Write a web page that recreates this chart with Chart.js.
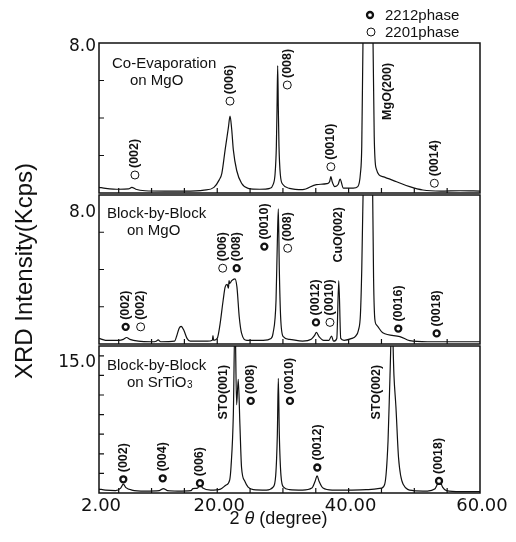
<!DOCTYPE html>
<html>
<head>
<meta charset="utf-8">
<script src="https://cdn.jsdelivr.net/npm/chart.js@4.4.1/dist/chart.umd.min.js"></script>
<style>
  html, body { margin: 0; padding: 0; background: #fff; }
  #wrap { position: relative; width: 516px; height: 542px; }
  #wrap canvas { position: absolute; left: 0; top: 0; }
</style>
</head>
<body>
<div id="wrap">
  <canvas id="panelTop" width="516" height="542"></canvas>
  <canvas id="panelMid" width="516" height="542"></canvas>
  <canvas id="panelBot" width="516" height="542"></canvas>
</div>
<script>
// 2theta axis
const xTickDegs = [2, 5, 10, 15, 20, 25, 30, 35, 40, 45, 50, 55, 60];
const xLabelDegs = [2, 20, 40, 60];

// Co-Evaporation on MgO
const topDeg = [2, 3, 5, 6.5, 7.0, 7.6, 9, 12, 15, 18, 19.5, 20.3, 20.7, 21.2, 21.7, 21.95, 22.2, 22.45, 22.96, 23.7,
  24.7, 26.5, 28.0, 28.5, 28.8, 29.0, 29.1, 29.2, 29.3, 29.4, 29.6, 30.0, 31, 33, 35.1, 36.7, 37.1, 37.3, 37.5, 37.9,
  38.4, 38.7, 39.2, 40.7, 41.4, 41.8, 42.0, 42.2, 42.5, 42.95, 43.4, 43.7, 43.9, 44.2, 45.2, 47.3, 49.3, 51.3, 54, 57, 60];
const topKcps = [0.3, 0.25, 0.2, 0.22, 0.3, 0.2, 0.12, 0.1, 0.1, 0.15, 0.3, 0.7, 1.05, 2.3, 3.5, 4.1, 3.4, 2.3, 1.2, 0.52,
  0.25, 0.2, 0.25, 0.45, 1.0, 2.5, 4.5, 6.8, 4.5, 2.5, 1.0, 0.45, 0.25, 0.18, 0.45, 0.5, 0.6, 0.87, 0.6, 0.34,
  0.45, 0.74, 0.26, 0.26, 0.34, 1.05, 2.5, 8.5, 14, 16, 14, 8.5, 3, 1.3, 0.87, 0.6, 0.34, 0.16, 0.1, 0.12, 0.1];
const topMarks = [
  [7.47, 0.96, '2201', '(002)'],
  [21.94, 4.9, '2201', '(006)'],
  [30.66, 5.76, '2201', '(008)'],
  [37.3, 1.4, '2201', '(0010)'],
  [53.05, 0.52, '2201', '(0014)']
];
const topNotes = [[46.0, 3.9, 'MgO(200)']];

// Block-by-Block on MgO
const midDeg = [2, 3, 5, 5.7, 6.2, 6.7, 8, 10, 10.7, 11.0, 11.4, 13.5, 13.8, 14.2, 14.5, 14.9, 15.4, 15.9, 18.5, 19.25,
  19.35, 19.45, 20.0, 20.4, 20.9, 21.2, 21.5, 21.7, 21.8, 21.9, 22.2, 22.7, 23.0, 23.35, 23.7, 24.5, 27, 28.2, 28.5, 28.95,
  29.15, 29.3, 29.45, 29.65, 30.05, 31, 33, 34.3, 34.8, 35.1, 35.5, 36.2, 37.0, 37.4, 37.7, 38.2, 38.5, 38.8, 39.3, 40.5,
  41.0, 41.5, 41.8, 42.0, 42.3, 42.95, 43.6, 43.8, 44.0, 44.3, 45.2, 47.8, 49.3, 52, 56, 60];
const midKcps = [0.3, 0.2, 0.2, 0.25, 0.35, 0.25, 0.15, 0.12, 0.15, 0.22, 0.12, 0.15, 0.4, 0.85, 0.95, 0.75, 0.3, 0.15, 0.15, 0.2,
  0.45, 0.2, 0.3, 1.0, 2.35, 3.05, 3.2, 3.0, 3.4, 3.25, 3.4, 3.5, 3.05, 1.45, 0.58, 0.2, 0.2, 0.3, 0.58, 2.35,
  5.5, 7.25, 4.0, 1.45, 0.4, 0.25, 0.15, 0.25, 0.45, 0.62, 0.4, 0.2, 0.2, 0.43, 0.15, 0.3, 3.4, 0.3, 0.2, 0.3,
  0.4, 0.75, 1.6, 4.0, 10, 16, 10, 3.5, 1.3, 1.0, 0.6, 0.4, 0.18, 0.12, 0.12, 0.12];
const midMarks = [
  [6.06, 0.92, '2212', '(002)'],
  [8.34, 0.92, '2201', '(002)'],
  [20.83, 4.07, '2201', '(006)'],
  [22.96, 4.07, '2212', '(008)'],
  [27.17, 5.23, '2212', '(0010)'],
  [30.72, 5.14, '2201', '(008)'],
  [35.03, 1.16, '2212', '(0012)'],
  [37.16, 1.16, '2201', '(0010)'],
  [47.56, 0.83, '2212', '(0016)'],
  [53.4, 0.57, '2212', '(0018)']
];
const midNotes = [[38.5, 4.37, 'CuO(002)']];

// Block-by-Block on SrTiO3
const botDeg = [2, 3, 4.5, 5.3, 5.7, 6.1, 7, 9, 11.2, 11.8, 12.4, 14, 16.0, 16.3, 17.0, 17.4, 17.8, 19, 20.5, 21.3,
  21.9, 22.1, 22.45, 22.7, 22.95, 23.2, 23.45, 23.7, 24.2, 24.7, 25.5, 27.5, 28.5, 28.9, 29.15, 29.3, 29.45, 29.7, 30.1, 31,
  33, 34.4, 34.9, 35.2, 35.5, 36.1, 37.5, 40, 43, 45.0, 45.5, 46.0, 46.3, 46.6, 46.9, 47.2, 47.6, 48.3, 49.8, 52,
  53.1, 53.6, 53.9, 54.3, 54.9, 57, 60];
const botKcps = [0.4, 0.3, 0.25, 0.5, 0.9, 0.55, 0.3, 0.2, 0.25, 0.45, 0.25, 0.2, 0.25, 0.45, 0.5, 0.9, 0.5, 0.3, 0.4, 0.8,
  1.35, 2.7, 8, 18, 9, 11.6, 7, 2.6, 1.2, 0.6, 0.35, 0.3, 0.6, 1.8, 6, 11.7, 6, 1.8, 0.6, 0.35,
  0.3, 0.5, 1.2, 1.75, 1.2, 0.5, 0.3, 0.3, 0.35, 0.5, 0.9, 5.3, 12, 18, 12, 8.8, 3.6, 0.9, 0.25, 0.2,
  0.4, 1.0, 1.2, 0.6, 0.25, 0.15, 0.15];
const botMarks = [
  [5.7, 1.4, '2212', '(002)'],
  [11.7, 1.5, '2212', '(004)'],
  [17.37, 1.0, '2212', '(006)'],
  [25.1, 9.4, '2212', '(008)'],
  [31.07, 9.4, '2212', '(0010)'],
  [35.23, 2.6, '2212', '(0012)'],
  [53.76, 1.23, '2212', '(0018)']
];
const botNotes = [[20.9, 7.5, 'STO(001)'], [44.3, 7.5, 'STO(002)']];

const ink = '#111';
const W = 516, H = 542;
const plotLeft = 99, plotRight = 480;

Chart.defaults.font.family = '"Liberation Sans", Arial, sans-serif';
Chart.defaults.color = ink;

function upright(ctx, text, px, py) {
  ctx.save();
  ctx.translate(px, py);
  ctx.rotate(-Math.PI / 2);
  ctx.fillText(text, 0, 0);
  ctx.restore();
}

function makeDecor(spec) {
  return {
    id: 'xrdDecor',
    afterDatasetsDraw(chart) {
      const { ctx, chartArea: a, scales: { x, y } } = chart;
      ctx.save();
      ctx.strokeStyle = ink;
      ctx.fillStyle = ink;

      // frame + inward ticks
      ctx.lineWidth = 1.5;
      ctx.strokeRect(a.left, a.top, a.right - a.left, a.bottom - a.top);
      ctx.lineWidth = 1.2;
      ctx.beginPath();
      xTickDegs.slice(1, -1).forEach(v => {
        const px = x.getPixelForValue(v);
        ctx.moveTo(px, a.bottom);
        ctx.lineTo(px, a.bottom - 5);
      });
      spec.yTicks.slice(1, -1).forEach(v => {
        const py = y.getPixelForValue(v);
        ctx.moveTo(a.left, py);
        ctx.lineTo(a.left + 5, py);
      });
      ctx.stroke();

      // peak labels
      ctx.font = 'bold 12.5px "Liberation Sans"';
      ctx.textAlign = 'left';
      ctx.textBaseline = 'middle';
      spec.marks.forEach(m => upright(ctx, m[3], x.getPixelForValue(m[0]), y.getPixelForValue(m[1]) - 7));
      spec.notes.forEach(n => upright(ctx, n[2], x.getPixelForValue(n[0]), y.getPixelForValue(n[1])));

      // sample caption
      ctx.font = '15px "Liberation Sans"';
      ctx.textBaseline = 'alphabetic';
      ctx.fillText(spec.caption[0], a.left + spec.capPos[0], a.top + spec.capPos[1]);
      ctx.fillText(spec.caption[1], a.left + spec.capPos[2], a.top + spec.capPos[3]);
      if (spec.capSub) {
        const w = ctx.measureText(spec.caption[1]).width;
        ctx.font = '10px "Liberation Sans"';
        ctx.fillText(spec.capSub, a.left + spec.capPos[2] + w + 0.5, a.top + spec.capPos[3] + 1);
      }

      if (spec.extra) spec.extra(ctx, a);
      ctx.restore();
    }
  };
}

function buildPanel(id, spec) {
  const isBottom = !!spec.isBottom;
  const curve = spec.deg.map((d, i) => ({ x: d, y: spec.kcps[i] }));
  const pick = phase => spec.marks.filter(m => m[2] === phase).map(m => ({ x: m[0], y: m[1] }));
  return new Chart(document.getElementById(id), {
    type: 'line',
    data: {
      datasets: [
        { data: pick('2212'), showLine: false, pointRadius: 3, pointBorderWidth: 2.3,
          pointBackgroundColor: '#fff', pointBorderColor: ink },
        { data: pick('2201'), showLine: false, pointRadius: 4, pointBorderWidth: 1,
          pointBackgroundColor: '#fff', pointBorderColor: ink },
        { data: curve, borderColor: ink, borderWidth: 1.2, pointRadius: 0,
          cubicInterpolationMode: 'monotone', fill: false }
      ]
    },
    options: {
      responsive: false,
      animation: false,
      events: [],
      layout: {
        padding: {
          left: plotLeft - 40,
          right: W - plotRight,
          top: spec.top,
          bottom: isBottom ? H - spec.bottom - 30 : H - spec.bottom
        }
      },
      plugins: { legend: { display: false }, tooltip: { enabled: false } },
      scales: {
        x: {
          type: 'linear', min: 2, max: 60,
          display: isBottom,
          grid: { display: false, drawTicks: false },
          border: { display: false },
          afterBuildTicks: s => { s.ticks = xTickDegs.map(v => ({ value: v })); },
          afterFit: s => { if (isBottom) s.height = 30; },
          ticks: {
            autoSkip: false, maxRotation: 0, minRotation: 0, padding: 3, labelOffset: 2,
            font: { family: '"DejaVu Sans"', size: 18 },
            callback: v => xLabelDegs.includes(v) ? v.toFixed(2) : ''
          }
        },
        y: {
          type: 'linear', min: 0, max: spec.yMax,
          grid: { display: false, drawTicks: false },
          border: { display: false },
          afterBuildTicks: s => { s.ticks = spec.yTicks.map(v => ({ value: v })); },
          afterFit: s => { s.width = 40; },
          ticks: {
            autoSkip: false, padding: 3, labelOffset: spec.labelShift,
            font: { family: '"DejaVu Sans"', size: 17 },
            callback: v => v === spec.yMax ? spec.yMaxLabel : ''
          }
        }
      }
    },
    plugins: [makeDecor(spec)]
  });
}

buildPanel('panelTop', {
  deg: topDeg, kcps: topKcps, marks: topMarks, notes: topNotes,
  top: 43, bottom: 193, yMax: 8, yTicks: [0, 2, 4, 6, 8], yMaxLabel: '8.0', labelShift: 4,
  caption: ['Co-Evaporation', 'on MgO'], capPos: [13, 25, 31, 42],
  extra: (ctx) => {
    // phase legend
    ctx.lineWidth = 2.3;
    ctx.beginPath(); ctx.arc(370, 15, 3, 0, Math.PI * 2); ctx.stroke();
    ctx.lineWidth = 1;
    ctx.beginPath(); ctx.arc(371, 32, 4, 0, Math.PI * 2); ctx.stroke();
    ctx.font = '15px "Liberation Sans"';
    ctx.fillText('2212phase', 385, 20);
    ctx.fillText('2201phase', 385, 37);
    // y title
    ctx.font = '24px "Liberation Sans"';
    ctx.textAlign = 'center';
    upright(ctx, 'XRD Intensity(Kcps)', 32, 271);
  }
});

buildPanel('panelMid', {
  deg: midDeg, kcps: midKcps, marks: midMarks, notes: midNotes,
  top: 195, bottom: 344, yMax: 8, yTicks: [0, 2, 4, 6, 8], yMaxLabel: '8.0', labelShift: 18,
  caption: ['Block-by-Block', 'on MgO'], capPos: [8, 23, 28, 40]
});

buildPanel('panelBot', {
  deg: botDeg, kcps: botKcps, marks: botMarks, notes: botNotes, isBottom: true,
  top: 346, bottom: 493, yMax: 15, yTicks: [0, 2, 4, 6, 8, 10, 12, 14, 15], yMaxLabel: '15.0', labelShift: 17,
  caption: ['Block-by-Block', 'on SrTiO'], capSub: '3', capPos: [8, 24, 28, 41],
  extra: (ctx, a) => {
    // x title: 2θ (degree), theta in italics
    const parts = [['2 ', '18px "Liberation Sans"'], ['θ', 'italic 18px "Liberation Sans"'], [' (degree)', '18px "Liberation Sans"']];
    let total = 0;
    parts.forEach(p => { ctx.font = p[1]; total += ctx.measureText(p[0]).width; });
    let cx = (a.left + a.right) / 2 - 11 - total / 2;
    parts.forEach(p => { ctx.font = p[1]; ctx.fillText(p[0], cx, 524); cx += ctx.measureText(p[0]).width; });
  }
});
</script>
</body>
</html>
